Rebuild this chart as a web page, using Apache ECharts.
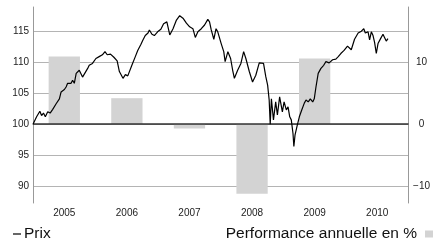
<!DOCTYPE html>
<html>
  <head>
    <meta charset="utf-8">
    <title>ECharts</title>
    <script src="https://cdn.jsdelivr.net/npm/echarts@6/dist/echarts.min.js"></script>
  </head>
  <body style="margin:0;">
    <div id="main" style="width:433px;height:243px;"></div>
    <script type="text/javascript">
      // years (category axis for the bars)
      var years = ['2005', '2006', '2007', '2008', '2009', '2010'];
      // annual performance in %
      var perf = [10.9, 4.2, -0.7, -11.2, 10.6, null];
      // price index, base 100
      var priceDates = [
        '2005-01-01','2005-01-22','2005-02-10','2005-02-20','2005-03-03','2005-03-14','2005-03-28','2005-04-11',
        '2005-04-26','2005-05-06','2005-05-16','2005-06-04','2005-06-14','2005-07-03','2005-07-13','2005-07-22',
        '2005-08-01','2005-08-11','2005-08-20','2005-08-30','2005-09-10','2005-09-19','2005-09-28','2005-10-17',
        '2005-10-27','2005-11-16','2005-11-25','2005-12-14','2006-01-03','2006-01-22','2006-02-10','2006-02-25',
        '2006-03-10','2006-03-29','2006-04-18','2006-05-07','2006-05-20','2006-05-29','2006-06-10','2006-06-24',
        '2006-07-08','2006-07-19','2006-08-02','2006-08-21','2006-09-04','2006-09-23','2006-10-03','2006-10-18',
        '2006-11-03','2006-11-11','2006-11-26','2006-12-10','2006-12-29','2007-01-17','2007-02-02','2007-02-21',
        '2007-03-10','2007-03-29','2007-04-18','2007-05-07','2007-05-26','2007-06-15','2007-07-04','2007-07-23',
        '2007-08-06','2007-08-21','2007-09-10','2007-09-29','2007-10-18','2007-10-28','2007-11-07','2007-11-22',
        '2007-12-05','2007-12-15','2008-01-04','2008-01-19','2008-01-27','2008-02-12','2008-02-28','2008-03-11',
        '2008-03-21','2008-04-09','2008-04-28','2008-05-14','2008-05-27','2008-06-16','2008-07-05','2008-07-24',
        '2008-08-13','2008-08-22','2008-09-07','2008-09-20','2008-10-01','2008-10-10','2008-10-16','2008-10-23',
        '2008-11-04','2008-11-17','2008-11-27','2008-12-10','2008-12-26','2009-01-05','2009-01-18','2009-01-28',
        '2009-02-07','2009-02-16','2009-02-26','2009-03-03','2009-03-10','2009-03-21','2009-04-04','2009-04-18',
        '2009-05-03','2009-05-13','2009-05-26','2009-06-07','2009-06-21','2009-06-30','2009-07-10','2009-07-23',
        '2009-08-08','2009-08-24','2009-09-06','2009-09-25','2009-10-15','2009-11-03','2009-11-17','2009-12-02',
        '2009-12-21','2010-01-10','2010-01-19','2010-02-01','2010-02-20','2010-03-13','2010-04-01','2010-04-15',
        '2010-04-24','2010-05-10','2010-05-19','2010-05-29','2010-06-08','2010-06-17','2010-06-27','2010-07-07',
        '2010-07-22','2010-08-05','2010-08-14','2010-08-24','2010-09-03'
      ];
      var priceValues = [
        100.0, 101.2, 102.1, 101.4, 101.8, 101.2, 102.0, 101.8,
        102.4, 102.1, 103.3, 104.1, 105.2, 105.6, 106.0, 106.6,
        106.8, 106.6, 107.1, 106.6, 108.2, 107.9, 108.7, 107.6,
        107.4, 109.0, 109.5, 109.8, 110.6, 110.9, 111.2, 111.7,
        111.2, 111.3, 110.8, 110.2, 108.5, 108.8, 107.4, 108.0,
        107.8, 107.6, 109.6, 110.9, 111.9, 112.9, 113.5, 114.3,
        114.7, 115.2, 114.5, 114.3, 114.9, 115.3, 116.2, 116.5,
        114.4, 115.4, 116.8, 117.5, 117.1, 116.3, 115.7, 115.4,
        114.0, 114.9, 115.4, 116.0, 116.9, 116.5, 115.2, 113.7,
        115.4, 114.9, 113.0, 111.7, 110.1, 111.7, 110.6, 108.7,
        107.4, 108.7, 109.8, 111.7, 110.6, 108.5, 106.8, 107.9,
        109.9, 110.1, 109.8, 107.7, 106.3, 103.9, 100.0, 104.1,
        100.7, 103.6, 101.5, 104.4, 102.0, 103.6, 102.3, 102.8,
        101.2, 100.7, 98.5, 96.4, 98.3, 99.6, 101.2, 102.3,
        103.4, 103.9, 103.6, 104.1, 103.6, 104.1, 106.0, 108.2,
        109.0, 109.5, 110.1, 109.9, 110.4, 110.5, 110.9, 111.4,
        111.9, 112.6, 112.7, 112.0, 113.7, 114.7, 115.0, 115.4,
        114.7, 114.9, 113.6, 114.9, 114.3, 113.2, 111.4, 113.0,
        113.8, 114.5, 114.0, 113.4, 113.8
      ];

      var leftMin = 87.3, leftMax = 118.9;
      var font = 'Liberation Sans, Arial, sans-serif';

      var myChart = echarts.init(document.getElementById('main'));
      var option = {
        animation: false,
        grid: { left: 33, right: 21, top: 7, bottom: 40 },
        legend: [{
          data: [{ name: 'Prix', icon: 'rect' }],
          left: 13, top: 226, padding: 0,
          itemWidth: 8, itemHeight: 1.2, itemGap: 4,
          textStyle: { fontFamily: font, fontSize: 15.5, color: '#111', padding: [0, 0, 0, -2] }
        }, {
          data: [{ name: 'Performance annuelle en %', icon: 'rect' }],
          right: 0, top: 226, align: 'right', padding: 0,
          itemWidth: 8, itemHeight: 7,
          textStyle: { fontFamily: font, fontSize: 15.5, color: '#111', padding: [0, 3, 0, 0] }
        }],
        xAxis: [{
          type: 'category',
          data: years,
          axisLine: { lineStyle: { color: '#999', width: 1 } },
          axisTick: { show: false },
          axisLabel: { fontFamily: font, fontSize: 10, color: '#222', margin: 5 },
          splitLine: { show: false }
        }, {
          type: 'time',
          min: '2005-01-01',
          max: '2011-01-01',
          show: false
        }],
        yAxis: [{
          type: 'value',
          position: 'left',
          min: leftMin, max: leftMax,
          splitNumber: 6, minInterval: 5, maxInterval: 5,
          axisLine: { show: true, lineStyle: { color: '#999', width: 1 } },
          axisTick: { show: false },
          axisLabel: { fontFamily: font, fontSize: 10, color: '#222', margin: 4,
                       showMinLabel: false, showMaxLabel: false },
          splitLine: { show: true, showMinLine: false, showMaxLine: false,
                       lineStyle: { color: '#b4b4b4', width: 1 } }
        }, {
          type: 'value',
          position: 'right',
          min: leftMin - 100, max: leftMax - 100,
          splitNumber: 3, minInterval: 10, maxInterval: 10,
          axisLine: { show: true, lineStyle: { color: '#999', width: 1 } },
          axisTick: { show: false },
          axisLabel: { fontFamily: font, fontSize: 10, color: '#222', margin: 13, align: 'center',
                       showMinLabel: false, showMaxLabel: false,
                       formatter: function (v) { return String(v).replace('-', '\u2212'); } },
          splitLine: { show: false }
        }],
        series: [{
          name: 'Performance annuelle en %',
          type: 'bar',
          xAxisIndex: 0,
          yAxisIndex: 1,
          barWidth: '50%',
          itemStyle: { color: '#d3d3d3' },
          data: perf,
          markLine: {
            silent: true,
            symbol: 'none',
            label: { show: false },
            lineStyle: { color: '#333', width: 1.5, type: 'solid' },
            data: [{ yAxis: 0 }]
          }
        }, {
          name: 'Prix',
          type: 'line',
          xAxisIndex: 1,
          yAxisIndex: 0,
          z: 5,
          showSymbol: false,
          itemStyle: { color: '#000' },
          lineStyle: { color: '#000', width: 1.2 },
          data: priceDates.map(function (d, i) { return [d, priceValues[i]]; })
        }]
      };
      myChart.setOption(option);
    </script>
  </body>
</html>
